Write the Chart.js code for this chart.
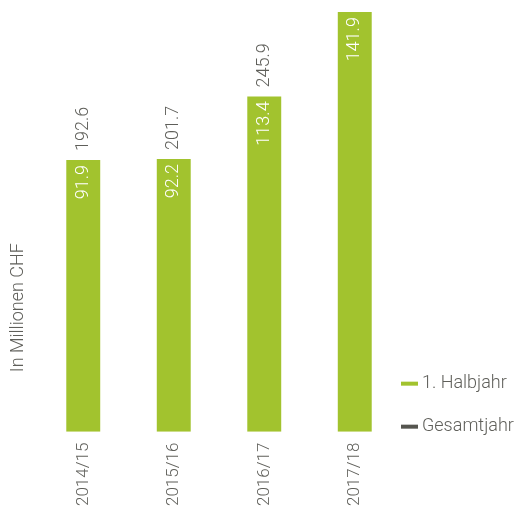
<!DOCTYPE html>
<html>
<head>
<meta charset="utf-8">
<script src="https://cdn.jsdelivr.net/npm/chart.js@4/dist/chart.umd.min.js"></script>
<style>
  html, body { margin: 0; padding: 0; background: #ffffff; }
  #wrap { width: 523px; height: 509px; position: relative; }
</style>
</head>
<body>
<div id="wrap"><canvas id="c" width="523" height="509"></canvas></div>
<script>
const categories = ["2014/15", "2015/16", "2016/17", "2017/18"];
const halbjahr = [91.9, 92.2, 113.4, 141.9];
const gesamtjahr = [192.6, 201.7, 245.9, null];
const seriesNames = ["1. Halbjahr", "Gesamtjahr"];
const axisTitle = "In Millionen CHF";

const GREEN = "#a2c32e";
const DARK = "#55554f";
const TEXT = "#5f5f5a";
const FONT = "Roboto, 'Liberation Sans', sans-serif";
const FSIZE = 18;

const labelPlugin = {
  id: "valueLabels",
  afterDatasetsDraw(chart) {
    const ctx = chart.ctx;
    const meta = chart.getDatasetMeta(0);
    const area = chart.chartArea;
    ctx.save();
    ctx.font = "300 " + FSIZE + "px " + FONT;
    ctx.textBaseline = "middle";
    meta.data.forEach((bar, i) => {
      ctx.save();
      ctx.translate(bar.x, bar.y + 5);
      ctx.rotate(-Math.PI / 2);
      ctx.textAlign = "right";
      ctx.fillStyle = "#ffffff";
      ctx.fillText(halbjahr[i].toFixed(1), 0, 0);
      ctx.restore();
      if (gesamtjahr[i] != null) {
        ctx.save();
        ctx.translate(bar.x, bar.y - 9);
        ctx.rotate(-Math.PI / 2);
        ctx.textAlign = "left";
        ctx.fillStyle = TEXT;
        ctx.fillText(gesamtjahr[i].toFixed(1), 0, 0);
        ctx.restore();
      }
    });
    // axis title
    ctx.save();
    ctx.translate(18, area.bottom - 124);
    ctx.rotate(-Math.PI / 2);
    ctx.textAlign = "center";
    ctx.fillStyle = TEXT;
    ctx.fillText(axisTitle, 0, 0);
    ctx.restore();
    // legend
    const cols = [GREEN, DARK];
    const ys = [area.bottom - 48, area.bottom - 5];
    seriesNames.forEach((n, i) => {
      ctx.fillStyle = cols[i];
      ctx.fillRect(area.right + 1, ys[i] - 2, 17, 4);
      ctx.fillStyle = TEXT;
      ctx.textAlign = "left";
      ctx.fillText(n, area.right + 22, ys[i]);
    });
    ctx.restore();
  }
};

new Chart(document.getElementById("c"), {
  type: "bar",
  data: {
    labels: categories,
    datasets: [
      { label: seriesNames[0], data: halbjahr, backgroundColor: GREEN, grouped: false,
        categoryPercentage: 1, barPercentage: 0.375 },
      { label: seriesNames[1], data: gesamtjahr, backgroundColor: "rgba(0,0,0,0)", grouped: false,
        categoryPercentage: 1, barPercentage: 0.375 }
    ]
  },
  options: {
    responsive: false,
    animation: false,
    layout: { padding: { left: 38, top: 0, right: 123, bottom: 0 } },
    scales: {
      x: {
        grid: { display: false },
        border: { display: false },
        ticks: { minRotation: 90, maxRotation: 90, padding: 3, color: TEXT,
                 font: { family: FONT, size: 17, weight: 300 } }
      },
      y: { display: false, min: 0, max: 146 }
    },
    plugins: {
      legend: { display: false },
      tooltip: { enabled: false }
    }
  },
  plugins: [labelPlugin]
});
</script>
</body>
</html>
